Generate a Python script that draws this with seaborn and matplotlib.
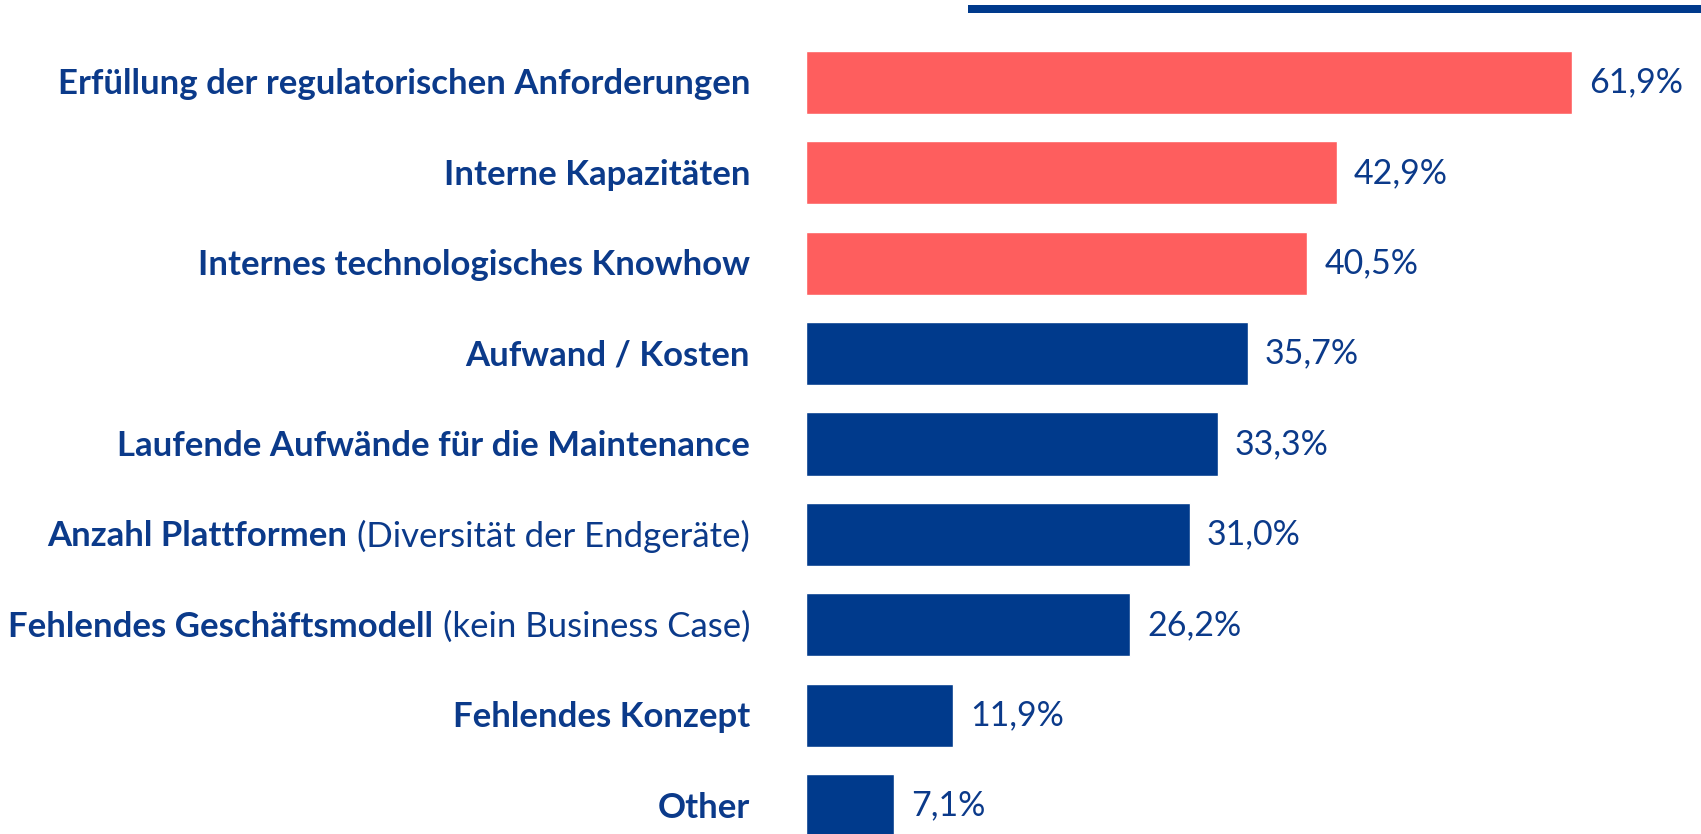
import matplotlib
matplotlib.use("Agg")
import matplotlib.pyplot as plt
from matplotlib.lines import Line2D
import seaborn as sns
import pandas as pd

categories = [
    "Erfüllung der regulatorischen Anforderungen",
    "Interne Kapazitäten",
    "Internes technologisches Knowhow",
    "Aufwand / Kosten",
    "Laufende Aufwände für die Maintenance",
    "Anzahl Plattformen",
    "Fehlendes Geschäftsmodell",
    "Fehlendes Konzept",
    "Other",
]
notes = ["", "", "", "", "", "(Diversität der Endgeräte)", "(kein Business Case)", "", ""]
values = [61.9, 42.9, 40.5, 35.7, 33.3, 31.0, 26.2, 11.9, 7.1]
highlighted = [True, True, True, False, False, False, False, False, False]

RED = "#FE5E5E"
BLUE = "#003A8C"
TEXT = "#0B3A8A"

sns.set_theme(style="white")
plt.rcParams["font.family"] = ["Lato", "DejaVu Sans"]

DPI = 100
W, H = 1701, 834
fig = plt.figure(figsize=(W / DPI, H / DPI), dpi=DPI)
left_px = 806
ax = fig.add_axes([left_px / W, 0, 1 - left_px / W, 1])

df = pd.DataFrame({"cat": categories, "val": values})
palette = [RED if h else BLUE for h in highlighted]
sns.barplot(data=df, x="val", y="cat", hue="cat", palette=palette, legend=False,
            width=0.70, saturation=1, ax=ax, orient="h")

px_per_unit = (1572 - 806) / 61.9
ax.set_xlim(0, (W - left_px) / px_per_unit)
spacing = 90.4
top_c = 82.4
ax.set_ylim((H - top_c) / spacing, -top_c / spacing)
ax.axis("off")

FS = 25
VFS = 24.5
pt = 72 / DPI
label_gap = 56 * pt

fig.canvas.draw()
renderer = fig.canvas.get_renderer()
for i, (c, n) in enumerate(zip(categories, notes)):
    off = -label_gap
    if n:
        t = ax.annotate(n, xy=(0, i), xytext=(off, -2 * pt), textcoords="offset points",
                        ha="right", va="center", fontsize=FS, color=TEXT, annotation_clip=False)
        bb = t.get_window_extent(renderer)
        off -= (bb.width + 10) * pt
    ax.annotate(c, xy=(0, i), xytext=(off, -2 * pt), textcoords="offset points",
                ha="right", va="center", fontsize=FS, fontweight="bold", color=TEXT,
                annotation_clip=False)

for i, v in enumerate(values):
    s = f"{v:.1f}".replace(".", ",") + "%"
    ax.annotate(s, xy=(v, i), xytext=(17 * pt, 0), textcoords="offset points",
                ha="left", va="center", fontsize=VFS, color=TEXT, annotation_clip=False)

fig.add_artist(Line2D([968 / W, 1.0], [1 - 9 / H, 1 - 9 / H], color=BLUE, lw=8 * pt,
                      solid_capstyle="butt"))

fig.savefig("out.png", dpi=DPI)
